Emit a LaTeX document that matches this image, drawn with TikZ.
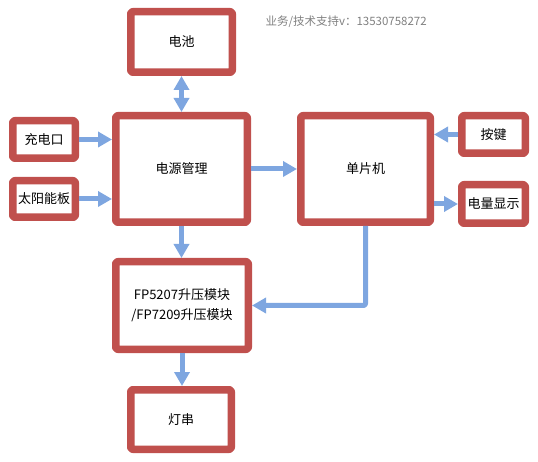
\documentclass[tikz,border=0pt]{standalone}
\usepackage{fontspec}
\setmainfont{Noto Sans CJK SC}
\usetikzlibrary{arrows.meta}
\definecolor{boxred}{HTML}{C0504D}
\definecolor{arrblue}{HTML}{7EA6E0}

\begin{document}
\begin{tikzpicture}[line cap=butt,line join=round,x=1pt,y=-1pt,
	bloc/.style={draw=boxred,fill=white,line width=7.5pt,rounded corners=2pt,
		font=\fontsize{13}{20}\selectfont,align=center,inner sep=0pt},
	fleche/.style={draw=arrblue,line width=5pt,-{Triangle[length=14pt,width=15pt]}}]
		\useasboundingbox (0,0) rectangle (538,462);
		% Ligne 1
		\node[bloc,minimum width=101.5pt,minimum height=60.5pt] (bat) at (181.5,42) {电池};
		\node[anchor=west,text=gray,font=\fontsize{11.5}{14}\selectfont] (tel) at (262,22) {业务/技术支持v：13530758272};
		% Ligne 2
		\node[bloc,minimum width=131.5pt,minimum height=106.5pt] (pm) at (181.5,169) {电源管理};
		\node[bloc,minimum width=129.5pt,minimum height=106.5pt] (mcu) at (365.5,169) {单片机};
		\node[bloc,minimum width=62.5pt,minimum height=37.5pt] (chg) at (44,139.5) {充电口};
		\node[bloc,minimum width=62.5pt,minimum height=36.5pt] (sol) at (44,199) {太阳能板};
		\node[bloc,minimum width=63.5pt,minimum height=37.5pt] (key) at (493.5,134.5) {按键};
		\node[bloc,minimum width=63.5pt,minimum height=38.5pt] (disp) at (493.5,204) {电量显示};
		% Ligne 3
		\node[bloc,minimum width=132.5pt,minimum height=87.5pt] (fp) at (182,305.5) {FP5207升压模块\\/FP7209升压模块};
		\node[bloc,minimum width=100.5pt,minimum height=59.5pt] (lamp) at (181,419.5) {灯串};
		% Fleches
		\draw[fleche,{Triangle[length=14pt,width=15pt]}-{Triangle[length=14pt,width=15pt]}] (bat.south) -- (bat.south |- pm.north);
		\draw[fleche] (chg.east) -- (chg.east -| pm.west);
		\draw[fleche] (sol.east) -- (sol.east -| pm.west);
		\draw[fleche] (pm.east) -- (pm.east -| mcu.west);
		\draw[fleche] (key.west) -- (key.west -| mcu.east);
		\draw[fleche] (disp.west -| mcu.east) -- (disp.west);
		\draw[fleche] (pm.south) -- (pm.south |- fp.north);
		\draw[fleche,rounded corners=2pt] (mcu.south) |- (fp.east);
		\draw[fleche] (fp.south) -- (fp.south |- lamp.north);
\end{tikzpicture}
\end{document}
